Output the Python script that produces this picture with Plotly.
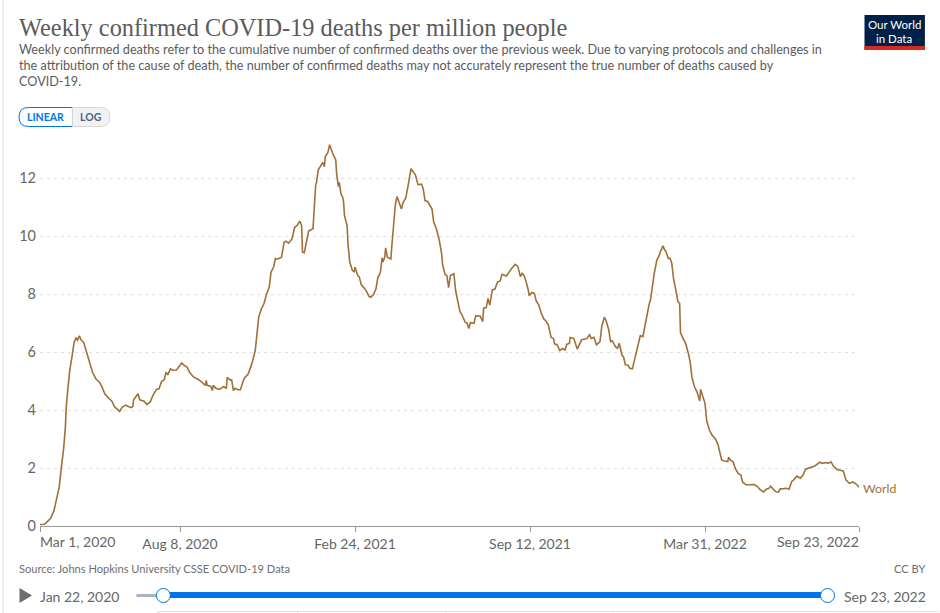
import pandas as pd
import plotly.graph_objects as go

# days after Mar 1, 2020
days = [0, 5, 8, 12, 16, 19, 22, 24, 27, 29, 30, 32, 34, 37, 39, 41, 43, 45, 47, 50,
        53, 56, 60, 64, 68, 71, 74, 78, 82, 85, 89, 91, 94, 98, 101, 104, 106, 107, 112, 114,
        119, 122, 126, 129, 133, 136, 139, 142, 144, 146, 149, 152, 156, 159, 162, 165, 168, 171, 175, 180,
        184, 189, 190, 191, 195, 197, 198, 201, 205, 210, 213, 214, 217, 219, 221, 223, 226, 229, 233, 238,
        242, 246, 248, 250, 253, 256, 259, 262, 264, 267, 269, 271, 276, 279, 281, 284, 288, 291, 294, 297,
        299, 300, 302, 305, 307, 312, 313, 315, 316, 318, 322, 323, 325, 326, 329, 331, 334, 338, 339, 341,
        342, 344, 346, 347, 348, 351, 352, 354, 357, 359, 360, 363, 365, 367, 370, 373, 376, 378, 381, 384,
        386, 389, 391, 392, 394, 395, 397, 401, 402, 405, 406, 408, 411, 413, 415, 418, 421, 422, 424, 427,
        429, 432, 436, 438, 440, 443, 448, 450, 453, 456, 459, 460, 463, 465, 467, 469, 473, 475, 478, 480,
        482, 486, 488, 490, 492, 496, 498, 503, 506, 507, 510, 512, 514, 517, 520, 523, 526, 528, 533, 536,
        539, 543, 546, 549, 551, 553, 555, 558, 559, 562, 565, 567, 570, 573, 576, 578, 581, 583, 584, 587,
        588, 591, 594, 597, 600, 602, 605, 606, 610, 614, 616, 619, 625, 628, 630, 633, 636, 640, 642, 645,
        647, 650, 652, 654, 658, 660, 662, 665, 667, 669, 672, 674, 677, 679, 681, 684, 686, 689, 691, 693,
        696, 698, 700, 702, 705, 707, 709, 712, 714, 715, 718, 720, 722, 724, 727, 729, 731, 732, 735, 738,
        741, 743, 745, 748, 751, 754, 755, 757, 760, 762, 765, 768, 772, 775, 777, 779, 782, 786, 787, 789,
        792, 795, 798, 801, 803, 807, 811, 816, 820, 823, 827, 830, 833, 835, 838, 841, 844, 846, 850, 853,
        856, 859, 862, 865, 869, 872, 875, 878, 882, 886, 891, 894, 898, 901, 904, 907, 911, 915, 918, 921,
        925, 929, 933, 936]

deaths = [0.05, 0.06, 0.14, 0.26, 0.53, 0.89, 1.35, 1.92, 2.67, 3.41, 4.10, 4.79, 5.36, 5.93, 6.33, 6.48, 6.41, 6.56, 6.41, 6.33,
          6.03, 5.65, 5.30, 5.07, 4.96, 4.79, 4.56, 4.42, 4.31, 4.12, 3.99, 3.95, 4.10, 4.17, 4.12, 4.08, 4.12, 4.35, 4.56, 4.35,
          4.30, 4.19, 4.28, 4.50, 4.71, 4.73, 4.99, 5.04, 5.30, 5.21, 5.42, 5.37, 5.38, 5.50, 5.62, 5.53, 5.48, 5.30, 5.15, 5.07,
          4.99, 4.85, 5.02, 4.85, 4.82, 4.67, 4.85, 4.75, 4.71, 4.81, 4.74, 5.13, 5.04, 5.04, 4.67, 4.75, 4.70, 4.70, 5.07, 5.25,
          5.59, 6.05, 6.74, 7.21, 7.49, 7.67, 8.01, 8.24, 8.75, 8.93, 9.22, 9.20, 9.27, 9.79, 9.82, 9.75, 9.90, 10.30, 10.37, 10.51,
          10.36, 9.44, 9.42, 9.90, 10.17, 10.25, 10.88, 11.74, 11.85, 12.28, 12.48, 12.54, 12.39, 12.73, 12.88, 13.15, 12.88, 12.62, 12.14, 11.70,
          11.85, 11.45, 11.33, 11.16, 10.70, 10.36, 9.73, 9.10, 8.81, 8.77, 8.93, 8.64, 8.58, 8.33, 8.22, 8.10, 7.92, 7.89, 7.97, 8.18,
          8.55, 8.75, 9.25, 9.10, 9.27, 9.59, 9.27, 9.21, 9.61, 10.76, 11.05, 11.36, 11.11, 10.93, 11.16, 11.30, 11.79, 11.97, 12.32, 12.19,
          12.11, 11.77, 11.79, 11.62, 11.22, 11.19, 10.93, 10.47, 10.25, 9.90, 9.39, 9.04, 8.67, 8.63, 8.22, 8.64, 8.70, 8.12, 7.67, 7.38,
          7.30, 7.02, 7.00, 6.81, 7.01, 6.99, 7.25, 7.24, 7.05, 7.51, 7.53, 7.85, 7.62, 8.14, 8.17, 8.42, 8.45, 8.68, 8.62, 8.77,
          8.88, 9.02, 8.96, 8.60, 8.71, 8.65, 8.48, 8.14, 7.94, 8.05, 8.02, 7.77, 7.62, 7.33, 7.13, 7.08, 6.93, 6.65, 6.51, 6.46,
          6.28, 6.25, 6.05, 6.12, 6.07, 6.26, 6.30, 6.50, 6.47, 6.10, 6.22, 6.42, 6.46, 6.59, 6.47, 6.51, 6.25, 6.36, 6.88, 7.20,
          7.08, 6.76, 6.36, 6.39, 6.17, 6.13, 6.30, 5.90, 5.82, 5.56, 5.55, 5.44, 5.42, 5.67, 5.90, 6.30, 6.56, 6.53, 6.88, 7.11,
          7.62, 7.85, 8.37, 8.71, 9.17, 9.28, 9.46, 9.66, 9.51, 9.49, 9.23, 9.23, 9.06, 8.54, 8.08, 7.74, 7.68, 6.66, 6.46, 6.29,
          5.95, 5.66, 5.14, 4.80, 4.61, 4.31, 4.71, 4.51, 4.23, 3.62, 3.31, 3.14, 3.00, 2.79, 2.48, 2.28, 2.24, 2.22, 2.37, 2.27,
          2.22, 1.96, 1.81, 1.76, 1.51, 1.42, 1.42, 1.43, 1.36, 1.25, 1.17, 1.27, 1.30, 1.37, 1.27, 1.18, 1.17, 1.28, 1.29, 1.30,
          1.27, 1.53, 1.61, 1.72, 1.65, 1.76, 1.96, 1.99, 2.05, 2.08, 2.20, 2.16, 2.19, 2.16, 2.21, 2.05, 1.95, 1.91, 1.90, 1.59,
          1.47, 1.52, 1.44, 1.34]

tick_dates = ["2020-03-01", "2020-08-08", "2021-02-24", "2021-09-12", "2022-03-31", "2022-09-23"]
tick_labels = ["Mar 1, 2020", "Aug 8, 2020", "Feb 24, 2021", "Sep 12, 2021", "Mar 31, 2022", "Sep 23, 2022"]
y_ticks = [0, 2, 4, 6, 8, 10, 12]

title = "Weekly confirmed COVID-19 deaths per million people"
subtitle_lines = ["Weekly confirmed deaths refer to the cumulative number of confirmed deaths over the previous week. "
                  "Due to varying protocols and challenges in",
                  "the attribution of the cause of death, the number of confirmed deaths may not accurately "
                  "represent the true number of deaths caused by",
                  "COVID-19."]

LINE = "#9f7039"
GREY = "#5b5b5b"
BLUE = "#0073e6"

dates = pd.Timestamp("2020-03-01") + pd.to_timedelta(days, unit="D")

# page pixels -> paper coordinates of the plot area
L, R, T, B = 39.5, 859.5, 143, 526


def px(x):
    return (x - L) / (R - L)


def py(y):
    return (B - y) / (B - T)


def text(x, y, s, size, color=GREY, anchor="left", family="Lato"):
    fig.add_annotation(xref="paper", yref="paper", x=px(x), y=py(y), text=s, showarrow=False,
                       xanchor=anchor, yanchor="middle", align=anchor, borderpad=0, borderwidth=0,
                       font=dict(family=family, size=size, color=color))


def rect(x0, y0, x1, y1, fill, line=None, width=0):
    fig.add_shape(type="rect", xref="paper", yref="paper", x0=px(x0), x1=px(x1), y0=py(y0), y1=py(y1),
                  fillcolor=fill, line=dict(color=line, width=width))


def circle(cx, cy, r, fill, line=None, width=0):
    fig.add_shape(type="circle", xref="paper", yref="paper", x0=px(cx - r), x1=px(cx + r),
                  y0=py(cy - r), y1=py(cy + r), fillcolor=fill, line=dict(color=line, width=width))


def path(points, fill, line=None, width=0):
    fig.add_shape(type="path", xref="paper", yref="paper", path=points, fillcolor=fill,
                  line=dict(color=line, width=width))


fig = go.Figure()
fig.add_trace(go.Scatter(x=dates, y=deaths, mode="lines", line=dict(color=LINE, width=1.6),
                         cliponaxis=False, showlegend=False, hoverinfo="skip"))

fig.update_layout(
    width=940, height=613, autosize=False,
    margin=dict(l=L, r=940 - R, t=T, b=613 - B, pad=0),
    paper_bgcolor="white", plot_bgcolor="white",
    font=dict(family="Lato", color="#666666"),
    xaxis=dict(type="date", range=[tick_dates[0], tick_dates[-1]], tickmode="array", tickvals=tick_dates,
               ticktext=[""] + tick_labels[1:-1] + [""], ticks="outside", ticklen=5, tickcolor="#999999",
               showgrid=False, showline=True, linecolor="#999999", linewidth=1,
               tickfont=dict(size=14, color="#666666")),
    yaxis=dict(range=[0, (B - T) / 29], tickmode="array", tickvals=y_ticks, ticks="",
               showgrid=True, gridcolor="#e0e0e0", griddash="3px,4px", gridwidth=1, zeroline=False,
               showline=False, tickfont=dict(size=14.5, color="#666666"), ticklabelstandoff=3),
)

# first and last x labels sit inside the axis ends
text(39, 541, tick_labels[0], 14, "#666666")
text(859.5, 541, tick_labels[-1], 14, "#666666", anchor="right")

text(18, 27, title, 24.35, GREY, family="Liberation Serif")
text(18, 49, subtitle_lines[0], 12.65)
text(18, 65, subtitle_lines[1], 12.65)
text(18, 81, subtitle_lines[2], 12.65)

# scale toggle
path(f"M {px(72)} {py(107.5)} L {px(28)} {py(107.5)} Q {px(18.5)} {py(107.5)} {px(18.5)} {py(117)} "
     f"Q {px(18.5)} {py(126.5)} {px(28)} {py(126.5)} L {px(72)} {py(126.5)} Z", "white", BLUE, 1)
path(f"M {px(72)} {py(107.5)} L {px(100)} {py(107.5)} Q {px(109.5)} {py(107.5)} {px(109.5)} {py(117)} "
     f"Q {px(109.5)} {py(126.5)} {px(100)} {py(126.5)} L {px(72)} {py(126.5)} Z", "#f2f2f2", "#d8d8d8", 1)
text(45, 117, "<b>LINEAR</b>", 10.5, BLUE, anchor="center")
text(91, 117, "<b>LOG</b>", 10.5, "#4a6488", anchor="center")

# logo
rect(865, 15, 925.5, 50, "#002147")
rect(865, 46, 925.5, 50, "#d42b21")
text(895, 24.5, "Our World", 11.5, "white", anchor="center")
text(895, 38, "in Data", 11.5, "white", anchor="center")

text(864, 488, "World", 12.3, LINE)
text(18, 568, "Source: Johns Hopkins University CSSE COVID-19 Data", 11.1, "#6e6e6e")
text(925.5, 568, "CC BY", 11.1, "#6e6e6e", anchor="right")

# timeline slider
path(f"M {px(19)} {py(588)} L {px(31.5)} {py(595.5)} L {px(19)} {py(603)} Z", "#6e6e6e")
text(40, 596, "Jan 22, 2020", 14, "#666666")
text(926.5, 596, "Sep 23, 2022", 14, "#666666", anchor="right")
rect(136, 594, 163, 597, "#a9b4c2")
rect(163, 592, 828, 598, BLUE)
circle(163, 595.5, 7, "white", BLUE, 1)
circle(828, 595.5, 7, "white", BLUE, 1)

# page frame and the edge of the tab row below the chart
rect(2, 0, 3, 613, "#e0e0e0")
rect(157, 611, 940, 612, "#e0e0e0")
for tab_edge in [157, 297, 445, 613, 819]:
    rect(tab_edge, 611, tab_edge + 1, 613, "#e0e0e0")

fig.write_html("out.html", config=dict(displayModeBar=False),
               post_script="document.body.style.margin='0';document.body.style.overflow='hidden';")
